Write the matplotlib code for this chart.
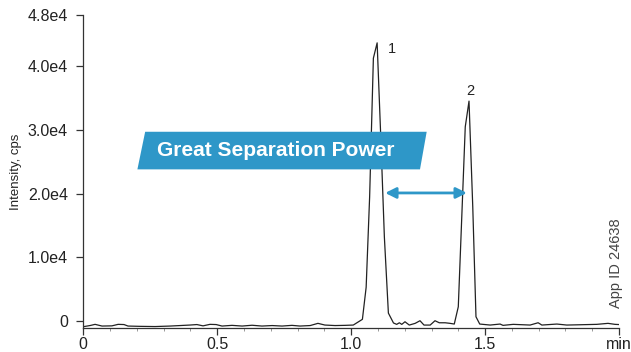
import matplotlib.pyplot as plt
from matplotlib.patches import Polygon
from matplotlib.ticker import MultipleLocator

plt.rcParams['font.family'] = ['Liberation Sans', 'DejaVu Sans']

# chromatogram trace (time in min, intensity in cps)
time = [0.003, 0.025, 0.044, 0.070, 0.107, 0.130, 0.152, 0.167, 0.212, 0.268,
        0.324, 0.361, 0.398, 0.424, 0.447, 0.473, 0.496, 0.518, 0.555, 0.593,
        0.630, 0.667, 0.705, 0.742, 0.779, 0.809, 0.847, 0.876, 0.902, 0.940,
        0.977, 1.008,
        # peak 1
        1.042, 1.056, 1.069, 1.083, 1.097, 1.111, 1.124, 1.139, 1.158,
        # between peaks
        1.170, 1.180, 1.189, 1.201, 1.217, 1.239, 1.257, 1.272, 1.295, 1.313,
        1.329, 1.351, 1.369, 1.385,
        # peak 2
        1.400, 1.413, 1.426, 1.440, 1.454, 1.466, 1.480,
        # tail
        1.519, 1.556, 1.567, 1.605, 1.668, 1.698, 1.712, 1.768, 1.805, 1.855,
        1.917, 1.959, 1.985, 2.000]
intensity = [-863, -706, -518, -784, -753, -518, -549, -784, -831, -863,
             -784, -706, -627, -549, -753, -518, -549, -784, -675, -784,
             -659, -784, -706, -784, -675, -784, -706, -361, -627, -706,
             -675, -627,
             270, 5300, 19500, 41250, 43650, 28400, 13200, 1250, -300,
             -520, -270, -520, -110, -630, -360, 50, -630, -630, 50,
             -270, -270, -360, -470,
             2240, 16360, 30480, 34510, 17930, 675, -470,
             -627, -470, -675, -518, -627, -267, -627, -470, -627, -580,
             -518, -361, -518, -549]

y_ticks = [0, 10000, 20000, 30000, 40000, 48000]
y_labels = ['0', '1.0e4', '2.0e4', '3.0e4', '4.0e4', '4.8e4']
x_ticks = [0, 0.5, 1.0, 1.5, 2.0]
x_labels = ['0', '0.5', '1.0', '1.5', 'min']

peak_labels = ['1', '2']
peak_label_pos = [(1.151, 42670), (1.446, 36080)]

blue = '#2e97c8'
axis_col = '#333333'

fig = plt.figure(figsize=(6.31, 3.52), dpi=100)
ax = fig.add_axes([0.132, 0.068, 0.849, 0.889])

ax.plot(time, intensity, color='#222222', lw=0.9)

ax.set_xlim(0, 2.0)
ax.set_ylim(-1100, 48000)

ax.spines['top'].set_visible(False)
ax.spines['right'].set_visible(False)
for s in ['left', 'bottom']:
    ax.spines[s].set_color(axis_col)
    ax.spines[s].set_linewidth(0.9)

ax.set_yticks(y_ticks)
ax.set_yticklabels(y_labels)
ax.set_xticks(x_ticks)
ax.set_xticklabels(x_labels)
ax.xaxis.set_minor_locator(MultipleLocator(0.1))
ax.tick_params(axis='both', which='major', direction='out', length=5,
               width=0.9, color=axis_col, labelsize=11.5, labelcolor='#222222')
ax.tick_params(axis='y', which='major', pad=6)
ax.tick_params(axis='x', which='major', pad=1.5)
ax.tick_params(axis='x', which='minor', direction='out', length=2,
               width=0.6, color='#888888')

ax.set_ylabel('Intensity, cps', fontsize=9.5, color='#222222')
ax.yaxis.set_label_coords(-0.115, 0.5)

# peak numbers
for lab, (tx, ty) in zip(peak_labels, peak_label_pos):
    ax.text(tx, ty, lab, fontsize=10.5, color='#222222',
            ha='center', va='center')

# banner
banner = Polygon([(0.202, 23800), (1.257, 23800), (1.282, 29700), (0.231, 29700)],
                 closed=True, facecolor=blue, edgecolor='none', zorder=3)
ax.add_patch(banner)
ax.text(0.720, 26750, 'Great Separation Power', color='white',
        fontsize=15, fontweight='bold', ha='center', va='center', zorder=4)

# separation arrow
ax.annotate('', xy=(1.432, 20100), xytext=(1.127, 20100),
            arrowprops=dict(arrowstyle='<|-|>', color=blue, lw=2,
                            mutation_scale=16, shrinkA=0, shrinkB=0))

fig.text(0.977, 0.253, 'App ID 24638', rotation=90, fontsize=10.5,
         color='#444444', ha='center', va='center')

fig.savefig('out.png', dpi=100)
